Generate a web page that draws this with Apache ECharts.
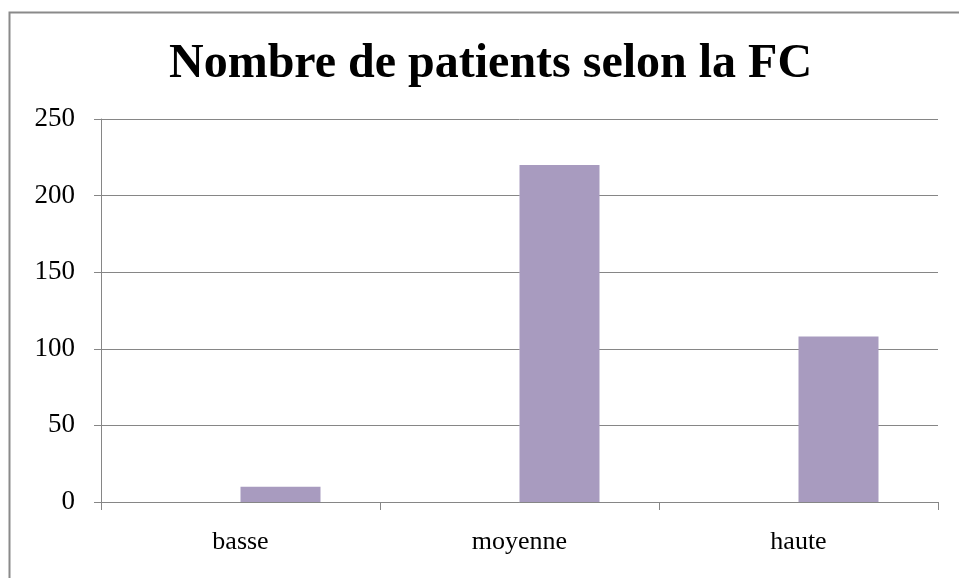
<!DOCTYPE html>
<html>
<head>
<meta charset="utf-8">
<script src="https://cdn.jsdelivr.net/npm/echarts@6/dist/echarts.min.js"></script>
<style>
html,body{margin:0;padding:0;background:#fff;}
#c{width:959px;height:578px;}
</style>
</head>
<body>
<div id="c"></div>
<script>
const titleText = 'Nombre de patients selon la FC';
const categories = ['basse', 'moyenne', 'haute'];
const emptySeries = [null, null, null];
const patientCounts = [10, 220, 108];
const yTicks = [0, 50, 100, 150, 200, 250];

const chart = echarts.init(document.getElementById('c'), null, {renderer: 'canvas'});
const FONT = '"Liberation Serif", "Times New Roman", serif';
chart.setOption({
  animation: false,
  backgroundColor: '#ffffff',
  title: {
    text: titleText,
    left: 164,
    top: 36,
    textStyle: {fontFamily: FONT, fontSize: 48, fontWeight: 'bold', color: '#000'}
  },
  graphic: [{
    type: 'rect', left: 7, top: 10, z: -1,
    shape: {width: 1000, height: 620},
    style: {fill: 'none', stroke: '#8a8a8a', lineWidth: 2}
  }],
  grid: {left: 101, right: 21, top: 119, bottom: 76, containLabel: false},
  xAxis: {
    type: 'category',
    data: categories,
    axisLine: {lineStyle: {color: '#868686', width: 1}},
    axisTick: {show: true, length: 8, lineStyle: {color: '#868686'}},
    axisLabel: {fontFamily: FONT, fontSize: 26, color: '#000', margin: 27}
  },
  yAxis: {
    type: 'value',
    min: yTicks[0],
    max: yTicks[yTicks.length - 1],
    interval: yTicks[1] - yTicks[0],
    axisLine: {show: true, lineStyle: {color: '#868686', width: 1}},
    axisTick: {show: true, length: 7, lineStyle: {color: '#868686'}},
    splitLine: {lineStyle: {color: '#868686', width: 1}},
    axisLabel: {fontFamily: FONT, fontSize: 27, color: '#000', margin: 26}
  },
  series: [
    {type: 'bar', data: emptySeries, barWidth: 80, barGap: 0, itemStyle: {color: '#4F81BD'}},
    {type: 'bar', data: patientCounts, barWidth: 80, barGap: 0, itemStyle: {color: '#A89BBF'}}
  ]
});
</script>
</body>
</html>
